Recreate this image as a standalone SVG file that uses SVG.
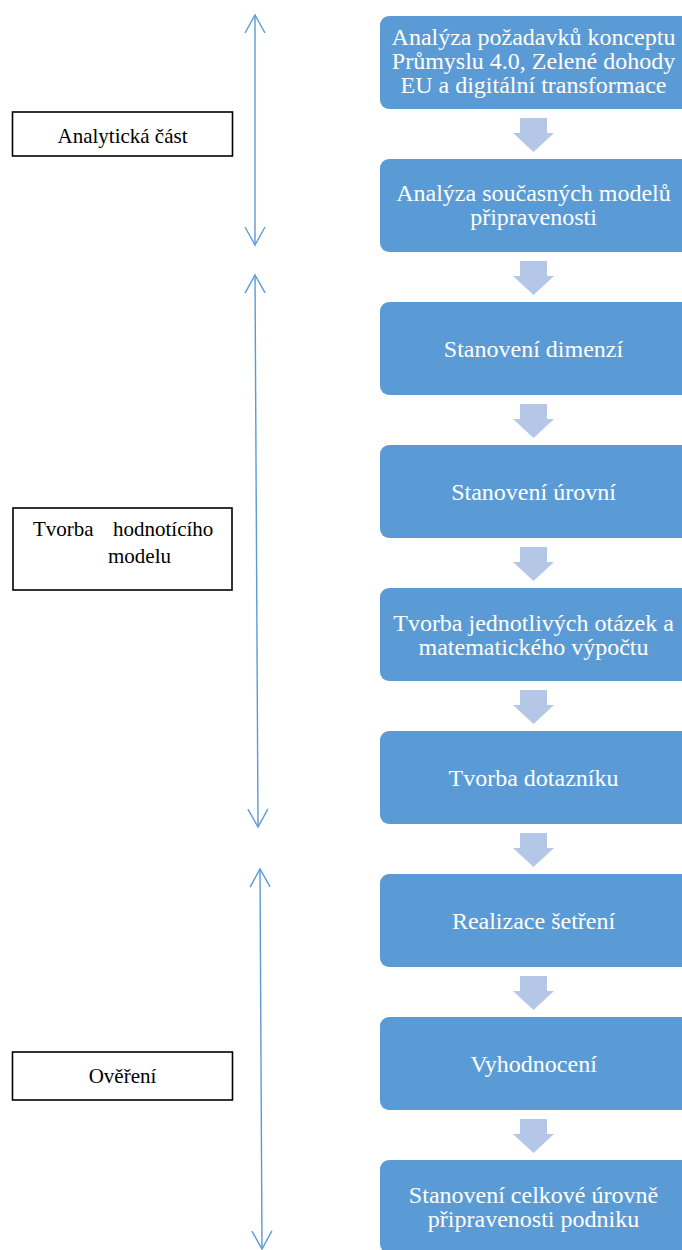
<svg xmlns="http://www.w3.org/2000/svg" width="682" height="1250" viewBox="0 0 682 1250">
  <style>
    .step rect { fill: #5b9bd5; }
    .step text { font-family: "Liberation Serif", "Times New Roman", serif; font-size: 24px; fill: #ffffff; text-anchor: middle; }
    .label rect { fill: #ffffff; stroke: #000000; stroke-width: 1.6; }
    .label text { font-family: "Liberation Serif", "Times New Roman", serif; font-size: 21px; fill: #000000; }
    .flow { fill: #b4c7e7; }
    .span { fill: none; stroke: #5b9bd5; stroke-width: 1.4; }
  </style>
  <defs>
    <marker id="openHead" markerUnits="userSpaceOnUse" markerWidth="24" markerHeight="24" viewBox="-20 -12 24 24" refX="0" refY="0" orient="auto-start-reverse">
      <path d="M-18,-10 L0,0 L-18,10" fill="none" stroke="#5b9bd5" stroke-width="1.4"/>
    </marker>
    <!-- block arrow between consecutive steps, origin = top of upper step -->
    <polygon id="downArrow" class="flow" points="520,102 547,102 547,117 554,117 533.5,136 513,117 520,117"/>
  </defs>

  <!-- span arrows for the three phases -->
  <g id="connectors">
    <line class="span" x1="255" y1="15" x2="255" y2="245" marker-start="url(#openHead)" marker-end="url(#openHead)"/>
    <line class="span" x1="255" y1="275" x2="258" y2="827" marker-start="url(#openHead)" marker-end="url(#openHead)"/>
    <line class="span" x1="260" y1="869" x2="262" y2="1249" marker-start="url(#openHead)" marker-end="url(#openHead)"/>
    <use href="#downArrow" transform="translate(0,16)"/>
    <use href="#downArrow" transform="translate(0,159)"/>
    <use href="#downArrow" transform="translate(0,302)"/>
    <use href="#downArrow" transform="translate(0,445)"/>
    <use href="#downArrow" transform="translate(0,588)"/>
    <use href="#downArrow" transform="translate(0,731)"/>
    <use href="#downArrow" transform="translate(0,874)"/>
    <use href="#downArrow" transform="translate(0,1017)"/>
  </g>

  <!-- phase labels -->
  <g id="label-analyticka" class="label">
    <rect x="12.5" y="112" width="220" height="44"/>
    <text x="122.5" y="143" text-anchor="middle">Analytická část</text>
  </g>
  <g id="label-tvorba" class="label">
    <rect x="13" y="508" width="219" height="82"/>
    <text x="33" y="536">Tvorba <tspan x="113">hodnotícího</tspan><tspan x="108" y="563">modelu</tspan></text>
  </g>
  <g id="label-overeni" class="label">
    <rect x="12.5" y="1052" width="220" height="48"/>
    <text x="122.5" y="1083" text-anchor="middle">Ověření</text>
  </g>

  <!-- process steps -->
  <g id="step1" class="step">
    <rect x="380" y="16" width="312" height="93" rx="9"/>
    <text x="533.5" y="45">Analýza požadavků konceptu</text>
    <text x="533.5" y="69">Průmyslu 4.0, Zelené dohody</text>
    <text x="533.5" y="93">EU a digitální transformace</text>
  </g>
  <g id="step2" class="step">
    <rect x="380" y="159" width="312" height="93" rx="9"/>
    <text x="533.5" y="201">Analýza současných modelů</text>
    <text x="533.5" y="225">připravenosti</text>
  </g>
  <g id="step3" class="step">
    <rect x="380" y="302" width="312" height="93" rx="9"/>
    <text x="533.5" y="357">Stanovení dimenzí</text>
  </g>
  <g id="step4" class="step">
    <rect x="380" y="445" width="312" height="93" rx="9"/>
    <text x="533.5" y="500">Stanovení úrovní</text>
  </g>
  <g id="step5" class="step">
    <rect x="380" y="588" width="312" height="93" rx="9"/>
    <text x="533.5" y="631">Tvorba jednotlivých otázek a</text>
    <text x="533.5" y="655">matematického výpočtu</text>
  </g>
  <g id="step6" class="step">
    <rect x="380" y="731" width="312" height="93" rx="9"/>
    <text x="533.5" y="786">Tvorba dotazníku</text>
  </g>
  <g id="step7" class="step">
    <rect x="380" y="874" width="312" height="93" rx="9"/>
    <text x="533.5" y="929">Realizace šetření</text>
  </g>
  <g id="step8" class="step">
    <rect x="380" y="1017" width="312" height="93" rx="9"/>
    <text x="533.5" y="1072">Vyhodnocení</text>
  </g>
  <g id="step9" class="step">
    <rect x="380" y="1160" width="312" height="93" rx="9"/>
    <text x="533.5" y="1203">Stanovení celkové úrovně</text>
    <text x="533.5" y="1227">připravenosti podniku</text>
  </g>
</svg>
